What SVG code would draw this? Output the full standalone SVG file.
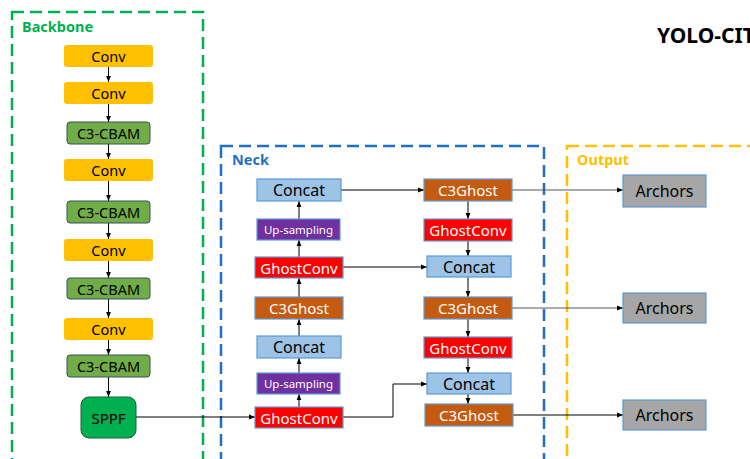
<svg xmlns="http://www.w3.org/2000/svg" width="750" height="459" viewBox="0 0 750 459">
<defs>
<marker id="ah" viewBox="0 0 10 10" refX="10" refY="5" markerWidth="6" markerHeight="6" orient="auto" markerUnits="userSpaceOnUse">
<path d="M0,1 L10,5 L0,9 z" fill="#000"/>
</marker>
<style>
text{font-family:"Noto Sans","Liberation Sans",sans-serif;text-anchor:middle;dominant-baseline:central}
.frame{fill:none;stroke-width:2.5;stroke-dasharray:12 6}
.lbl{text-anchor:start;font-weight:bold;font-size:14.5px}
.conv rect{fill:#FFC000;rx:3}
.conv text{font-size:14.5px;fill:#000}
.cbam rect{fill:#70AD47;stroke:#3B4F5E;stroke-width:1;rx:3}
.cbam text{font-size:14.5px;fill:#000}
.cat rect{fill:#9DC3E6;stroke:#5B9BD5;stroke-width:1.2}
.cat text{font-size:16px;fill:#000}
.c3g rect{fill:#C55A11;stroke:#5B9BD5;stroke-width:1.2}
.c3g text{font-size:15px;fill:#fff}
.gc rect{fill:#FF0000;stroke:#5B9BD5;stroke-width:1.2}
.gc text{font-size:15px;fill:#fff}
.up rect{fill:#7030A0;stroke:#5B9BD5;stroke-width:1.2}
.up text{font-size:11.5px;fill:#fff}
.arc rect{fill:#A6A6A6;stroke:#5B9BD5;stroke-width:1.2}
.arc text{font-size:16px;fill:#000}
#connectors path{fill:none;stroke:#000;stroke-width:1;marker-end:url(#ah)}
#connectors path.g{stroke:#555}
</style>
</defs>
<rect width="750" height="459" fill="#fff"/>

<!-- frames -->
<rect class="frame" x="12" y="12" width="191" height="470" stroke="#00B050"/>
<text class="lbl" x="22" y="26" fill="#00B050">Backbone</text>
<rect class="frame" x="221" y="146" width="323" height="340" stroke="#1F6FC5"/>
<text class="lbl" x="232" y="159" fill="#1F6FC5">Neck</text>
<rect class="frame" x="567" y="146" width="220" height="340" stroke="#FFC000"/>
<text class="lbl" x="577" y="159" fill="#FFC000">Output</text>

<text x="657" y="35" style="text-anchor:start;font-weight:bold;font-size:21px" fill="#000">YOLO-CIT</text>

<!-- connectors -->
<g id="connectors">
<path d="M108.5,67 V82"/>
<path d="M108.5,104 V122"/>
<path d="M108.5,144 V159"/>
<path d="M108.5,181 V201"/>
<path d="M108.5,223 V239"/>
<path d="M108.5,261 V278"/>
<path d="M108.5,299 V318"/>
<path d="M108.5,340 V355"/>
<path d="M108.5,377 V397"/>
<path d="M136,417 H255"/>
<path d="M299,407 V394"/>
<path d="M299,373 V358"/>
<path d="M299,336 V319"/>
<path d="M299,297 V278"/>
<path d="M299,257 V240"/>
<path d="M299,219 V201"/>
<path d="M341,190 H424"/>
<path d="M343,267 H427"/>
<path d="M343,417 H393 V384 H427"/>
<path d="M468,201 V219"/>
<path d="M468,241 V256"/>
<path d="M468,277 V297"/>
<path d="M468,319 V337"/>
<path d="M468,358 V373"/>
<path d="M468,394 V404"/>
<path class="g" d="M512,190 H623"/>
<path class="g" d="M512,308 H623"/>
<path d="M513,415 H623"/>
</g>

<!-- backbone -->
<g id="conv1" class="conv"><rect x="64" y="45" width="89" height="22"/><text x="108.5" y="56">Conv</text></g>
<g id="conv2" class="conv"><rect x="64" y="82" width="89" height="22"/><text x="108.5" y="93">Conv</text></g>
<g id="cbam1" class="cbam"><rect x="67" y="122" width="83" height="22"/><text x="108.5" y="133">C3-CBAM</text></g>
<g id="conv3" class="conv"><rect x="64" y="159" width="89" height="22"/><text x="108.5" y="170">Conv</text></g>
<g id="cbam2" class="cbam"><rect x="67" y="201" width="83" height="22"/><text x="108.5" y="212">C3-CBAM</text></g>
<g id="conv4" class="conv"><rect x="64" y="239" width="89" height="22"/><text x="108.5" y="250">Conv</text></g>
<g id="cbam3" class="cbam"><rect x="67" y="278" width="83" height="21"/><text x="108.5" y="288.5">C3-CBAM</text></g>
<g id="conv5" class="conv"><rect x="64" y="318" width="89" height="22"/><text x="108.5" y="329">Conv</text></g>
<g id="cbam4" class="cbam"><rect x="67" y="355" width="83" height="22"/><text x="108.5" y="366">C3-CBAM</text></g>
<g id="sppf"><rect x="81" y="397" width="55" height="41" rx="8" fill="#00B050" stroke="#1E5E3A" stroke-width="1"/><text x="108.5" y="417.5" style="font-size:15px">SPPF</text></g>

<!-- neck left -->
<g id="concat1" class="cat"><rect x="257" y="179" width="84" height="22"/><text x="299" y="190">Concat</text></g>
<g id="up1" class="up"><rect x="257" y="219" width="83" height="21"/><text x="298.5" y="229.5">Up-sampling</text></g>
<g id="gc1" class="gc"><rect x="255" y="257" width="88" height="21"/><text x="299" y="267.5">GhostConv</text></g>
<g id="c3g1" class="c3g"><rect x="255" y="297" width="88" height="22"/><text x="299" y="308">C3Ghost</text></g>
<g id="concat2" class="cat"><rect x="257" y="336" width="84" height="22"/><text x="299" y="347">Concat</text></g>
<g id="up2" class="up"><rect x="257" y="373" width="83" height="21"/><text x="298.5" y="383.5">Up-sampling</text></g>
<g id="gc2" class="gc"><rect x="255" y="407" width="88" height="21"/><text x="299" y="417.5">GhostConv</text></g>

<!-- neck right -->
<g id="c3g2" class="c3g"><rect x="424" y="179" width="88" height="22"/><text x="468" y="190">C3Ghost</text></g>
<g id="gc3" class="gc"><rect x="424" y="219" width="88" height="22"/><text x="468" y="230">GhostConv</text></g>
<g id="concat3" class="cat"><rect x="427" y="256" width="84" height="21"/><text x="469" y="266.5">Concat</text></g>
<g id="c3g3" class="c3g"><rect x="424" y="297" width="88" height="22"/><text x="468" y="308">C3Ghost</text></g>
<g id="gc4" class="gc"><rect x="424" y="337" width="88" height="21"/><text x="468" y="347.5">GhostConv</text></g>
<g id="concat4" class="cat"><rect x="427" y="373" width="84" height="21"/><text x="469" y="383.5">Concat</text></g>
<g id="c3g4" class="c3g"><rect x="425" y="404" width="88" height="22"/><text x="469" y="415">C3Ghost</text></g>

<!-- output -->
<g id="arc1" class="arc"><rect x="623" y="175" width="83" height="32"/><text x="664.5" y="191">Archors</text></g>
<g id="arc2" class="arc"><rect x="623" y="293" width="83" height="30"/><text x="664.5" y="308">Archors</text></g>
<g id="arc3" class="arc"><rect x="623" y="400" width="83" height="30"/><text x="664.5" y="415">Archors</text></g>
</svg>
